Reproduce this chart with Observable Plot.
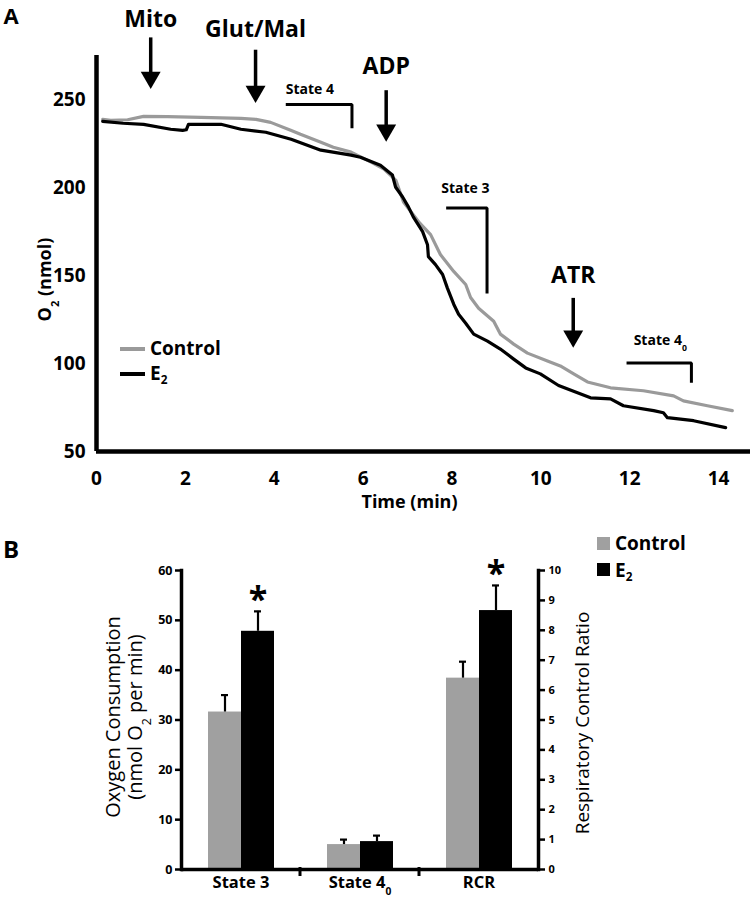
<!DOCTYPE html>
<html><head><meta charset="utf-8">
<script src="https://cdn.jsdelivr.net/npm/d3@7"></script>
<script src="https://cdn.jsdelivr.net/npm/@observablehq/plot@0.6"></script>
<style>
body{margin:0;background:#fff;}
#wrap{position:relative;width:750px;height:899px;font-family:"Open Sans",sans-serif;background:#fff;}
#wrap svg{display:block;}
.lab{position:absolute;font-weight:700;white-space:nowrap;line-height:1.4;color:#000;}
.sw{position:absolute;}
</style></head><body><div id="wrap"></div>
<script>
// ---------- Panel A: O2 traces ----------
const controlTime = [0.14,0.32,0.7,1.06,1.6,2.35,3.25,3.59,3.92,4.37,4.59,5.05,5.33,5.73,6.18,6.47,6.74,6.91,7.25,7.52,7.74,8.04,8.31,8.42,8.60,8.94,9.09,9.39,9.70,10.15,10.44,10.75,11.05,11.57,12.31,12.99,13.21,13.75,14.31];
const controlO2   = [238.7,238.1,238.5,240.4,240.3,239.8,239.3,238.7,237.0,232.5,230.2,225.7,222.9,220.1,214.4,210.5,204.0,191.8,180.5,173.2,161.9,152.3,144.9,137.5,131.4,124.0,116.7,111.0,105.9,101.4,98.6,94.0,89.5,86.2,84.5,81.6,78.8,76.0,73.2];
const e2Time = [0.14,0.6,1.06,1.67,1.94,2.02,2.07,2.80,3.25,3.81,4.38,5.05,5.73,5.94,6.39,6.66,6.73,6.89,7.02,7.13,7.34,7.45,7.47,7.63,7.79,7.90,8.04,8.15,8.31,8.49,8.80,9.09,9.39,9.66,9.99,10.4,11.12,11.57,11.86,12.54,12.76,12.85,13.44,14.16];
const e2O2   = [237.6,236.5,235.9,233.1,232.5,232.8,235.9,235.9,233.1,231.4,227.4,221.2,218.4,217.2,212.7,207.1,200.3,194.6,189.0,183.3,174.9,167.5,160.7,156.2,150.6,142.7,133.7,128.0,122.9,116.7,112.7,108.2,102.5,97.5,94.1,87.5,80.5,79.9,76.0,73.2,72.0,69.2,67.5,63.6];
const timeTicks = [0,2,4,6,8,10,12,14];
const o2Ticks = [50,100,150,200,250];

// additions (arrows)
const eventLabels = ["Mito","Glut/Mal","ADP","ATR"];
const eventTimes = [1.22,3.58,6.52,10.73];
const eventLabelO2 = [295.5,289.8,268.6,150.0];
const eventArrowTop = [285,278,255,137];
const eventArrowTip = [256,248,226,109];

// measurement windows (brackets)
const stateLabels = ["State 4","State 3","State 4₀"];
const stateStart = [4.26,7.87,11.93];
const stateEnd = [5.75,8.79,13.39];
const stateTop = [247.2,188.4,100.3];
const stateBottom = [233.6,139.8,89.0];
const stateLabelTime = [4.26,7.76,12.09];
const stateLabelO2 = [255.6,199.2,113.3];

// ---------- Panel B: bars ----------
const categories = ["State 3","State 4₀","RCR"];
const groups = ["Control","E₂"];
const controlMean = [31.6,5.0,6.4];
const controlSem  = [3.4,1.0,0.55];
const e2Mean = [47.8,5.6,8.66];
const e2Sem  = [4.0,1.2,0.84];
const e2Significant = [true,false,true];
const oxyTicks = [0,10,20,30,40,50,60];
const rcrTicks = [0,1,2,3,4,5,6,7,8,9,10];
const oxyMax = 60, rcrMax = 10;

const GRAY = "#9a9a9a", BARGRAY = "#a0a0a0";

function subscripts(root){
  const walker = document.createTreeWalker(root, NodeFilter.SHOW_TEXT);
  const nodes=[]; while(walker.nextNode()) nodes.push(walker.currentNode);
  const map={"₂":"2","₀":"0"};
  for(const n of nodes){
    const s=n.nodeValue; if(!/[₂₀]/.test(s)) continue;
    const frag=document.createDocumentFragment();
    for(const part of s.split(/([₂₀])/)){
      if(!part) continue;
      if(map[part]){
        const t=document.createElementNS("http://www.w3.org/2000/svg","tspan");
        t.setAttribute("baseline-shift","sub"); t.setAttribute("font-size","62%");
        t.textContent=map[part]; frag.appendChild(t);
      } else frag.appendChild(document.createTextNode(part));
    }
    n.parentNode.replaceChild(frag,n);
  }
}

const wrap = document.getElementById("wrap");

// ---- Panel A ----
const controlData = controlTime.map((t,i)=>({t, o2:controlO2[i]}));
const e2Data = e2Time.map((t,i)=>({t, o2:e2O2[i]}));
const events = eventLabels.map((label,i)=>({label, time:eventTimes[i], labelO2:eventLabelO2[i], top:eventArrowTop[i], tip:eventArrowTip[i]}));
const states = stateLabels.map((label,i)=>({label, lt:stateLabelTime[i], lo2:stateLabelO2[i]}));
const bracketPts = stateLabels.flatMap((s,i)=>[
  {s, t:stateStart[i], o2:stateTop[i]},
  {s, t:stateEnd[i], o2:stateTop[i]},
  {s, t:stateEnd[i], o2:stateBottom[i]}
]);

const plotA = Plot.plot({
  width:750, height:520, marginLeft:96, marginRight:0, marginTop:55, marginBottom:69,
  x:{domain:[0,14.72]}, y:{domain:[50,275]},
  style:{fontFamily:"'Open Sans', sans-serif", background:"white", color:"black", overflow:"visible"},
  marks:[
    Plot.axisY(o2Ticks,{tickSize:0, tickPadding:11, fontSize:19, fontWeight:700, label:null}),
    Plot.axisX(timeTicks,{tickSize:0, tickPadding:20, fontSize:19, fontWeight:700, label:null}),
    Plot.line(controlData,{x:"t", y:"o2", stroke:GRAY, strokeWidth:3.2, strokeLinejoin:"round"}),
    Plot.line(e2Data,{x:"t", y:"o2", stroke:"black", strokeWidth:3.2, strokeLinejoin:"round"}),
    Plot.ruleX([0],{y1:50, y2:275, strokeWidth:4.5}),
    Plot.ruleY([50],{strokeWidth:4.5}),
    Plot.text(events,{x:"time", y:"labelO2", text:"label", fontSize:23, fontWeight:700}),
    Plot.ruleX(events,{x:"time", y1:"top", y2:"tip", strokeWidth:3.5, insetBottom:10}),
    Plot.dot(events,{x:"time", y:"tip", symbol:"triangle", rotate:180, r:7.4, fill:"black", stroke:"none", dy:-11.5}),
    Plot.line(bracketPts,{x:"t", y:"o2", z:"s", strokeWidth:3, strokeLinejoin:"miter", strokeLinecap:"butt"}),
    Plot.text(states,{x:"lt", y:"lo2", text:"label", textAnchor:"start", fontSize:14, fontWeight:700}),
    Plot.text(["O₂ (nmol)"],{frameAnchor:"left", textAnchor:"middle", lineAnchor:"middle", rotate:-90, dx:-51, dy:26, fontSize:18, fontWeight:700}),
    Plot.text(["Time (min)"],{frameAnchor:"bottom", textAnchor:"middle", lineAnchor:"middle", dx:-14, dy:51, fontSize:18, fontWeight:700}),
    Plot.text(["A"],{frameAnchor:"top-left", textAnchor:"start", lineAnchor:"middle", dx:-93, dy:-39, fontSize:22, fontWeight:700})
  ]
});
subscripts(plotA);
wrap.appendChild(plotA);

// ---- Panel B ----
const barData = categories.flatMap((c,i)=>{
  const k = c==="RCR" ? oxyMax/rcrMax : 1; // RCR drawn against right axis (0-10 spans same height as 0-60)
  return [
    {category:c, group:groups[0], value:controlMean[i]*k, upper:(controlMean[i]+controlSem[i])*k, sig:false},
    {category:c, group:groups[1], value:e2Mean[i]*k, upper:(e2Mean[i]+e2Sem[i])*k, sig:e2Significant[i]}
  ];
});

const plotB = Plot.plot({
  width:750, height:379, marginLeft:180, marginRight:212, marginTop:50, marginBottom:30,
  fx:{domain:categories, padding:0, label:null},
  x:{domain:groups, paddingInner:0, paddingOuter:0.765, axis:null},
  y:{domain:[0,oxyMax], axis:null},
  color:{domain:groups, range:[BARGRAY,"black"]},
  style:{fontFamily:"'Open Sans', sans-serif", background:"white", color:"black", overflow:"visible"},
  marks:[
    Plot.barY(barData,{fx:"category", x:"group", y:"value", fill:"group"}),
    Plot.ruleX(barData,{fx:"category", x:"group", y1:"value", y2:"upper", strokeWidth:2.2}),
    Plot.tickY(barData,{fx:"category", x:"group", y:"upper", strokeWidth:2.2, insetLeft:13, insetRight:13}),
    Plot.text(barData.filter(d=>d.sig),{fx:"category", x:"group", y:"upper", text:()=>"*", dy:-11, fontSize:34, fontWeight:700}),
    Plot.ruleY([0],{strokeWidth:3.5}),
    Plot.frame({anchor:"left", facetAnchor:"left", strokeWidth:3.5}),
    Plot.frame({anchor:"right", facetAnchor:"right", strokeWidth:3.5}),
    Plot.axisY(oxyTicks,{anchor:"left", facetAnchor:"left", tickSize:6, tickPadding:3, strokeWidth:2.5, fontSize:12.5, fontWeight:700, label:null}),
    Plot.axisY(rcrTicks.map(v=>v*oxyMax/rcrMax),{anchor:"right", facetAnchor:"right", tickFormat:d=>d*rcrMax/oxyMax, tickSize:6, tickPadding:4, strokeWidth:2.5, fontSize:11, fontWeight:700, label:null}),
    Plot.axisFx({anchor:"bottom", tickSize:0, tickPadding:7, fontSize:16.5, fontWeight:700, label:null}),
    Plot.text(["Oxygen Consumption\n(nmol O₂ per min)"],{frameAnchor:"left", facetAnchor:"left", textAnchor:"middle", lineAnchor:"middle", rotate:-90, dx:-58, dy:-3, fontSize:20, lineHeight:1.1}),
    Plot.text(["Respiratory Control Ratio"],{frameAnchor:"right", facetAnchor:"right", textAnchor:"middle", lineAnchor:"middle", rotate:-90, dx:44, dy:3, fontSize:19})
  ]
});
// group-boundary ticks on the category axis, placed with Plot's fx scale
{
  const fx = plotB.scale("fx");
  const yb = 379-30;
  const svg = d3.select(plotB);
  categories.slice(1).forEach(c=>{
    const xp = fx.apply(c);
    svg.append("line").attr("x1",xp).attr("x2",xp).attr("y1",yb-2).attr("y2",yb+7).attr("stroke","black").attr("stroke-width",3);
  });
}
subscripts(plotB);
wrap.appendChild(plotB);

// ---- Panel letter B and legends ----
function lab(text, left, capTop, size){
  const d=document.createElement("div"); d.className="lab"; d.innerHTML=text;
  // line-height 1.4: cap top sits ~0.374em below the box top
  d.style.left=left+"px"; d.style.top=(capTop-0.374*size)+"px"; d.style.fontSize=size+"px";
  wrap.appendChild(d); return d;
}
function sw(left, top, w, h, color){
  const d=document.createElement("div"); d.className="sw";
  Object.assign(d.style,{left:left+"px",top:top+"px",width:w+"px",height:h+"px",background:color});
  wrap.appendChild(d);
}
const sub = s => s.replace(/₂/g,'<sub style="font-size:62%;vertical-align:-0.35em;line-height:0">2</sub>');
lab("B", 3, 541, 24);
// legend A (lines)
sw(120, 347, 25, 4, GRAY); lab(sub(groups[0]), 150, 342, 19);
sw(120, 372, 25, 4, "black"); lab(sub(groups[1]), 150, 367, 19);
// legend B (swatches)
sw(597, 537, 13, 13, BARGRAY); lab(sub(groups[0]), 615, 537, 19);
sw(597, 563, 13, 13, "black"); lab(sub(groups[1]), 615, 564, 19);
</script></body></html>
